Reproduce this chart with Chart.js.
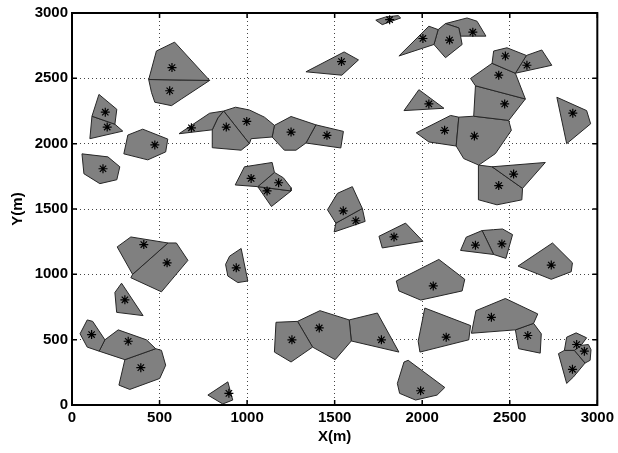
<!DOCTYPE html>
<html>
<head>
<meta charset="utf-8">
<script src="https://cdn.jsdelivr.net/npm/chart.js@4.4.1/dist/chart.umd.min.js"></script>
<style>
  html, body { margin: 0; padding: 0; background: #fff; }
  #wrap { width: 618px; height: 453px; }
</style>
</head>
<body>
<div id="wrap"><canvas id="cellChart"></canvas></div>
<script>
// axis ticks (m)
const xTicks = [0, 500, 1000, 1500, 2000, 2500, 3000];
const yTicks = [0, 500, 1000, 1500, 2000, 2500, 3000];

// node positions (the * marks)
const siteX = [571, 558, 190, 201, 177, 473, 682, 881, 998, 1251, 1456, 1023, 1180, 1114, 1549, 1621, 1839, 938,
  410, 543, 302, 112, 321, 393, 896, 1256, 1412, 1767, 1991, 2137, 2395, 2603, 2882, 2926, 2858, 1814, 1539,
  2004, 2156, 2289, 2475, 2598, 2437, 2471, 2298, 2128, 2038, 2860, 2522, 2437, 2304, 2455, 2737, 2063];
const siteY = [2582, 2405, 2241, 2127, 1808, 1990, 2121, 2127, 2170, 2089, 2064, 1734, 1701, 1638, 1486, 1410, 1286, 1050,
  1228, 1088, 805, 539, 488, 286, 89, 499, 590, 499, 109, 519, 671, 532, 463, 412, 273, 2949, 2628,
  2805, 2793, 2853, 2671, 2600, 2524, 2304, 2058, 2102, 2304, 2233, 1767, 1679, 1223, 1233, 1071, 911];

// cell outlines, x,y pairs (m)
const cells = [
  [438,2491, 482,2709, 586,2777, 786,2484],
  [438,2491, 786,2484, 625,2342, 568,2291, 473,2317, 454,2392],
  [154,2377, 256,2263, 245,2149, 114,2210],
  [114,2210, 245,2149, 290,2096, 102,2038],
  [57,1922, 205,1899, 273,1823, 256,1724, 159,1694, 68,1770],
  [319,2066, 404,2111, 547,2035, 535,1937, 433,1876, 296,1922],
  [611,2076, 786,2233, 866,2250, 833,2197, 801,2106],
  [866,2250, 1013,2000, 966,1950, 801,1969, 801,2106, 833,2197],
  [866,2250, 934,2279, 1013,2258, 1099,2203, 1156,2140, 1143,2051, 1023,2038, 1013,2000],
  [1156,2140, 1251,2208, 1393,2144, 1336,2005, 1279,1950, 1213,1950, 1143,2051],
  [1393,2144, 1550,2094, 1535,1967, 1336,2005],
  [932,1684, 985,1823, 1143,1856, 1156,1780, 1061,1671],
  [1156,1780, 1207,1739, 1251,1663, 1251,1638, 1061,1671],
  [1061,1671, 1251,1638, 1139,1519],
  [1459,1494, 1516,1620, 1601,1671, 1658,1504, 1507,1392],
  [1507,1392, 1658,1504, 1674,1405, 1497,1324],
  [1753,1291, 1905,1392, 2004,1253, 1772,1202],
  [877,1076, 900,1139, 966,1198, 1004,949, 947,937, 890,987],
  [258,1210, 336,1286, 548,1240, 346,1000],
  [346,1000, 548,1240, 596,1240, 662,1107, 511,866, 336,974],
  [245,861, 283,932, 406,684, 255,709],
  [46,545, 87,651, 118,640, 188,499, 155,412, 87,443],
  [188,499, 264,575, 425,499, 478,431, 302,347, 155,412],
  [302,347, 478,431, 511,418, 535,304, 501,203, 330,119, 268,152],
  [776,76, 890,177, 918,38, 861,8],
  [1165,633, 1288,640, 1374,443, 1251,329, 1156,405],
  [1288,640, 1416,722, 1583,651, 1595,490, 1503,347, 1374,443],
  [1583,651, 1744,704, 1867,405, 1595,490],
  [1896,329, 1920,342, 2129,134, 2085,76, 1962,38, 1871,89, 1858,165],
  [2015,742, 2276,608, 2266,499, 1987,405, 1977,488],
  [2281,549, 2307,722, 2475,815, 2660,697, 2636,625, 2532,575],
  [2532,575, 2636,625, 2680,545, 2674,397, 2551,431],
  [2825,519, 2879,552, 2939,514, 2907,456, 2869,418, 2812,418],
  [2907,456, 2949,463, 2964,423, 2959,342, 2930,321, 2869,418],
  [2778,393, 2812,418, 2869,418, 2930,321, 2864,215, 2825,165],
  [1735,2945, 1792,2970, 1863,2980, 1877,2962, 1772,2911],
  [1336,2550, 1554,2702, 1636,2641, 1541,2524],
  [1867,2671, 2038,2899, 2091,2873, 2067,2759],
  [2091,2873, 2133,2919, 2209,2886, 2219,2823, 2228,2759, 2133,2658, 2067,2759],
  [2133,2919, 2256,2962, 2313,2937, 2364,2823, 2219,2823, 2209,2886],
  [2408,2709, 2484,2734, 2595,2675, 2532,2539, 2399,2615],
  [2595,2675, 2683,2717, 2740,2600, 2532,2539],
  [2276,2499, 2399,2615, 2532,2539, 2589,2342, 2304,2443],
  [2304,2443, 2589,2342, 2494,2178, 2294,2210],
  [2209,2203, 2294,2210, 2494,2178, 2509,2102, 2418,1924, 2323,1836, 2237,1886, 2194,1982],
  [1966,2083, 2162,2216, 2209,2203, 2194,1982, 2038,2013],
  [1896,2253, 1981,2413, 2124,2271],
  [2769,2355, 2939,2253, 2962,2152, 2825,2000],
  [2399,1823, 2703,1856, 2573,1658],
  [2323,1836, 2399,1823, 2573,1658, 2569,1570, 2427,1532, 2323,1570, 2319,1684],
  [2219,1183, 2251,1284, 2342,1335, 2408,1152],
  [2342,1335, 2408,1342, 2459,1347, 2516,1304, 2478,1122, 2408,1152],
  [2547,1063, 2744,1240, 2858,1088, 2851,1020, 2737,962],
  [1852,949, 2095,1114, 2243,962, 2228,873, 1991,803, 1867,873]
];

const tickFont = { family: '"Liberation Sans", Arial, sans-serif', size: 15, weight: 'bold' };

// turn a flat x,y list into a closed ring of points
function ring(flat) {
  const pts = [];
  for (let i = 0; i < flat.length; i += 2) pts.push({ x: flat[i], y: flat[i + 1] });
  pts.push({ x: flat[0], y: flat[1] });
  return pts;
}

const datasets = [{
  label: 'nodes',
  data: siteX.map((x, i) => ({ x: x, y: siteY[i] })),
  showLine: false,
  pointStyle: 'star',
  pointRadius: 4.5,
  pointBorderWidth: 1.2,
  pointBorderColor: '#000',
  pointBackgroundColor: '#000'
}];

cells.forEach((c, i) => {
  datasets.push({
    label: 'cell' + i,
    data: ring(c),
    fill: 'shape',
    backgroundColor: '#808080',
    borderColor: '#262626',
    borderWidth: 1,
    pointRadius: 0,
    tension: 0
  });
});

// matlab style box + inward tick marks
const boxPlugin = {
  id: 'box',
  afterDraw(chart) {
    const { ctx, chartArea: a, scales } = chart;
    ctx.save();
    ctx.strokeStyle = '#000';
    ctx.lineWidth = 1.5;
    ctx.beginPath();
    xTicks.forEach(v => {
      const px = scales.x.getPixelForValue(v);
      ctx.moveTo(px, a.bottom); ctx.lineTo(px, a.bottom - 5);
      ctx.moveTo(px, a.top); ctx.lineTo(px, a.top + 5);
    });
    yTicks.forEach(v => {
      const py = scales.y.getPixelForValue(v);
      ctx.moveTo(a.left, py); ctx.lineTo(a.left + 5, py);
      ctx.moveTo(a.right, py); ctx.lineTo(a.right - 5, py);
    });
    ctx.stroke();
    ctx.lineWidth = 2;
    ctx.strokeRect(a.left, a.top, a.right - a.left, a.bottom - a.top);
    ctx.restore();
  }
};

const ctx = document.getElementById('cellChart').getContext('2d');
new Chart(ctx, {
  type: 'line',
  data: { datasets: datasets },
  plugins: [boxPlugin],
  options: {
    responsive: true,
    maintainAspectRatio: false,
    animation: false,
    layout: { padding: { top: 10, right: 19, left: 0, bottom: 0 } },
    plugins: {
      legend: { display: false },
      tooltip: { enabled: false }
    },
    scales: {
      x: {
        type: 'linear',
        min: 0,
        max: 3000,
        afterBuildTicks: s => { s.ticks = xTicks.map(v => ({ value: v })); },
        afterFit: s => { s.height = 48; },
        ticks: { color: '#000', font: tickFont, padding: 4, maxRotation: 0, callback: v => String(v) },
        grid: { color: '#444', drawTicks: false, lineWidth: 1 },
        border: { display: false, dash: [1, 3] },
        title: { display: true, text: 'X(m)', color: '#000', font: tickFont, padding: { top: 0, bottom: 7 } }
      },
      y: {
        type: 'linear',
        min: 0,
        max: 3000,
        afterBuildTicks: s => { s.ticks = yTicks.map(v => ({ value: v })); },
        afterFit: s => { s.width = 72; },
        ticks: { color: '#000', font: tickFont, padding: 4, callback: v => String(v) },
        grid: { color: '#444', drawTicks: false, lineWidth: 1 },
        border: { display: false, dash: [1, 3] },
        title: { display: true, text: 'Y(m)', color: '#000', font: tickFont, padding: { top: 9, bottom: 0 } }
      }
    }
  }
});
</script>
</body>
</html>
